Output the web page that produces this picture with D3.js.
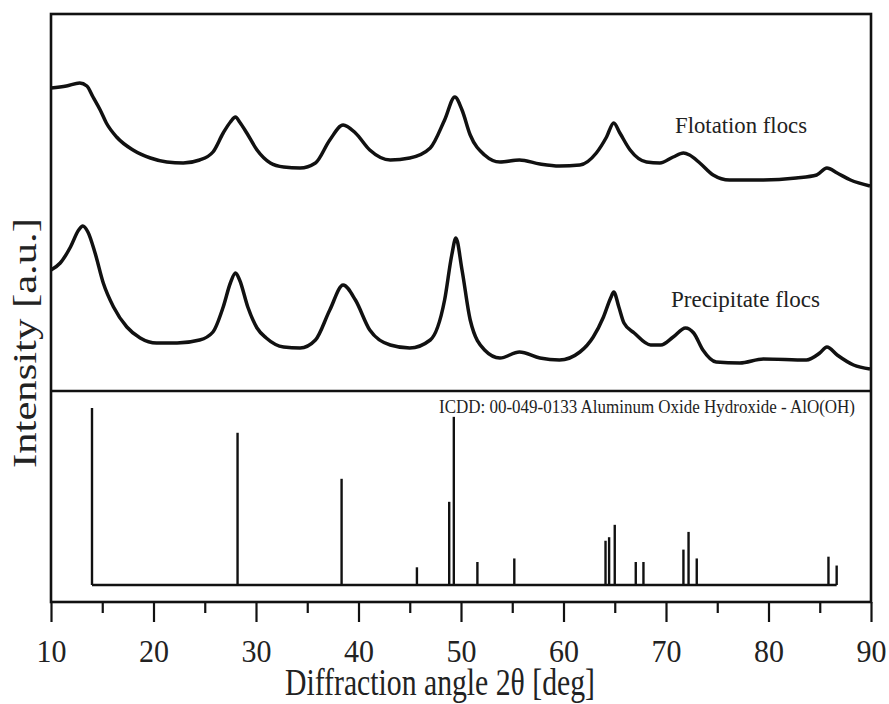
<!DOCTYPE html>
<html lang="en">
<head>
  <meta charset="UTF-8">
  <script src="https://d3js.org/d3.v7.min.js"></script>
  <style>
    html, body {
      margin: 0;
      padding: 0;
      background-color: white;
    }
    svg text {
      font-family: "Liberation Serif", "Times New Roman", serif;
      fill: #222;
    }
  </style>
</head>
<body>
  <svg id="plot-svg" width="889" height="704"></svg>
  <script>
    // --- data ---
    // two-theta (deg) and intensity (a.u.) for the flotation flocs pattern
    const flotAngle = [10.0, 11.5, 12.8, 13.5, 14.1, 14.8, 15.4, 16.4, 18.0, 19.7, 21.3, 22.9, 24.5, 25.8, 26.8, 27.5, 28.0, 28.4, 29.1, 30.1,
      31.4, 32.7, 34.3, 35.8, 37.2, 38.5, 39.7, 41.1, 43.1, 45.0, 47.0, 48.4, 49.4, 50.1, 50.9, 52.3, 53.8, 55.7, 57.7, 59.6,
      61.6, 63.2, 64.2, 64.9, 65.5, 66.5, 68.1, 69.4, 70.7, 71.7, 72.3, 73.3, 74.6, 76.2, 79.5, 82.7, 84.7, 85.7, 86.7, 88.0, 89.9];
    const flotInt = [303, 305, 308, 305, 294, 281, 268, 254, 241, 233, 229, 228, 231, 239, 258, 269, 274, 269, 258, 241,
      228, 224, 223, 228, 251, 266, 258, 241, 231, 233, 243, 271, 294, 281, 256, 236, 229, 231, 227, 225,
      226, 238, 254, 268, 258, 241, 229, 228, 234, 238, 236, 228, 216, 211, 211, 213, 216, 223, 218, 211, 205];

    // two-theta (deg) and intensity (a.u.) for the precipitate flocs pattern
    const precAngle = [10.0, 10.9, 11.9, 12.7, 13.1, 13.6, 14.3, 15.1, 16.1, 17.4, 18.7, 20.3, 22.3, 24.5, 25.8, 26.8, 27.5, 28.0, 28.4, 29.2,
      30.1, 31.0, 32.7, 34.3, 35.8, 37.2, 38.5, 39.7, 41.1, 43.1, 45.0, 47.0, 48.4, 49.1, 49.5, 50.1, 50.9, 52.3, 53.8, 55.7,
      57.7, 59.6, 61.6, 62.9, 63.9, 64.6, 64.9, 65.4, 65.9, 66.9, 68.5, 69.5, 70.7, 71.9, 72.7, 73.6, 74.9, 77.2, 79.5, 83.7,
      85.0, 85.7, 86.7, 88.3, 89.9];
    const precInt = [121, 128, 144, 161, 165, 159, 138, 108, 84, 64, 53, 48, 48, 51, 59, 84, 108, 118, 111, 84,
      63, 53, 44, 43, 51, 81, 106, 91, 61, 46, 43, 51, 91, 136, 153, 121, 71, 41, 33, 39,
      33, 31, 39, 54, 74, 93, 99, 84, 68, 58, 46, 46, 54, 63, 58, 41, 29, 28, 32, 31,
      38, 44, 36, 26, 22];

    // ICDD 00-049-0133 reference lines: position (deg) and relative intensity
    const refAngle = [14.0, 28.2, 38.35, 45.7, 48.85, 49.3, 51.6, 55.2, 64.1, 64.45, 65.0, 67.05, 67.8, 71.7, 72.2, 73.0, 85.85, 86.65];
    const refInt = [100, 86, 60, 10, 47, 95, 13, 15, 25, 27, 34, 13, 13, 20, 30, 15, 16, 11];

    const xTicks = [10, 20, 30, 40, 50, 60, 70, 80, 90];
    const xMinor = [15, 25, 35, 45, 55, 65, 75, 85];

    // --- layout ---
    const svg = d3.select("#plot-svg");
    const margin = { top: 14, right: 18, bottom: 102, left: 51 };
    const width = +svg.attr("width");
    const height = +svg.attr("height");
    const splitY = 391;          // line between the patterns and the reference panel
    const refBase = 585;         // baseline of the stick pattern

    const x = d3.scaleLinear().domain([10, 90]).range([margin.left, width - margin.right]);
    const yTop = d3.scaleLinear().domain([0, 377]).range([splitY, margin.top]);
    const yRef = d3.scaleLinear().domain([0, 100]).range([refBase, 408]);

    // minor ticks first so the major ones sit on top
    svg.append("g")
      .attr("transform", `translate(0, ${height - margin.bottom})`)
      .call(d3.axisBottom(x).tickValues(xMinor).tickSize(11).tickFormat(""))
      .call(g => g.select(".domain").remove())
      .selectAll("line").attr("stroke", "#111").attr("stroke-width", 2.2);

    const bottomAxis = svg.append("g")
      .attr("id", "bottom-axis")
      .attr("transform", `translate(0, ${height - margin.bottom})`)
      .call(d3.axisBottom(x).tickValues(xTicks).tickSize(20).tickPadding(18).tickFormat(d3.format("d")));
    bottomAxis.select(".domain").remove();
    bottomAxis.selectAll("line").attr("stroke", "#111").attr("stroke-width", 2.2);
    bottomAxis.selectAll("text")
      .attr("font-size", 31)
      .attr("font-family", "Liberation Serif")
      .attr("fill", "#222")
      .attr("textLength", 30)
      .attr("lengthAdjust", "spacingAndGlyphs");

    // frame
    svg.append("rect")
      .attr("x", margin.left)
      .attr("y", margin.top)
      .attr("width", width - margin.left - margin.right)
      .attr("height", height - margin.top - margin.bottom)
      .attr("fill", "none")
      .attr("stroke", "#111")
      .attr("stroke-width", 2.6);

    svg.append("line")
      .attr("x1", margin.left).attr("x2", width - margin.right)
      .attr("y1", splitY).attr("y2", splitY)
      .attr("stroke", "#111").attr("stroke-width", 2.4);

    // diffraction patterns
    const line = d3.line()
      .x(d => x(d[0]))
      .y(d => yTop(d[1]))
      .curve(d3.curveMonotoneX);

    svg.append("path")
      .datum(d3.zip(flotAngle, flotInt))
      .attr("fill", "none")
      .attr("stroke", "#111")
      .attr("stroke-width", 3.5)
      .attr("stroke-linejoin", "round")
      .attr("d", line);

    svg.append("path")
      .datum(d3.zip(precAngle, precInt))
      .attr("fill", "none")
      .attr("stroke", "#111")
      .attr("stroke-width", 3.5)
      .attr("stroke-linejoin", "round")
      .attr("d", line);

    // reference stick pattern
    const refData = d3.zip(refAngle, refInt);
    svg.append("line")
      .attr("x1", x(d3.min(refAngle))).attr("x2", x(d3.max(refAngle)))
      .attr("y1", yRef(0)).attr("y2", yRef(0))
      .attr("stroke", "#111").attr("stroke-width", 2.4);

    svg.selectAll(".stick")
      .data(refData)
      .join("line")
      .attr("class", "stick")
      .attr("x1", d => x(d[0])).attr("x2", d => x(d[0]))
      .attr("y1", yRef(0)).attr("y2", d => yRef(d[1]))
      .attr("stroke", "#111").attr("stroke-width", 2.4);

    // labels
    svg.append("text")
      .attr("x", 675).attr("y", 133)
      .attr("font-size", 23)
      .attr("textLength", 132).attr("lengthAdjust", "spacingAndGlyphs")
      .text("Flotation flocs");

    svg.append("text")
      .attr("x", 671).attr("y", 307)
      .attr("font-size", 24)
      .attr("textLength", 149).attr("lengthAdjust", "spacingAndGlyphs")
      .text("Precipitate flocs");

    svg.append("text")
      .attr("x", 439).attr("y", 413)
      .attr("font-size", 18.5)
      .attr("textLength", 416).attr("lengthAdjust", "spacingAndGlyphs")
      .text("ICDD: 00-049-0133 Aluminum Oxide Hydroxide - AlO(OH)");

    svg.append("text")
      .attr("x", 285).attr("y", 695)
      .attr("font-size", 37)
      .attr("textLength", 310).attr("lengthAdjust", "spacingAndGlyphs")
      .text("Diffraction angle 2θ [deg]");

    svg.append("text")
      .attr("transform", "translate(36, 343) rotate(-90)")
      .attr("text-anchor", "middle")
      .attr("font-size", 33)
      .attr("textLength", 250).attr("lengthAdjust", "spacingAndGlyphs")
      .text("Intensity [a.u.]");
  </script>
</body>
</html>
